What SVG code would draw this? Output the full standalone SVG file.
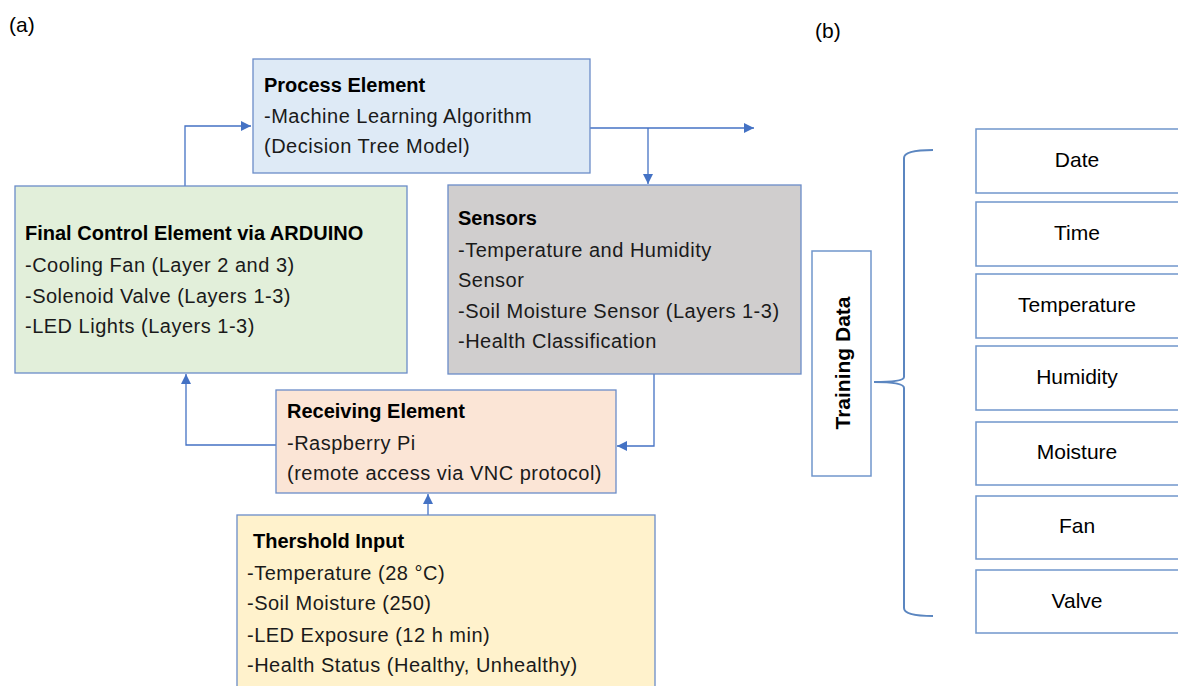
<svg xmlns="http://www.w3.org/2000/svg" width="1178" height="686" viewBox="0 0 1178 686">
<style>
.box{stroke:#6a8cc8;stroke-width:1.3}
.t{font-family:"Liberation Sans",Arial,sans-serif;font-size:20px;fill:#1a1a1a;letter-spacing:0.5px}
.b{font-weight:bold;fill:#000;letter-spacing:0}
.c{fill:none;stroke:#4472c4;stroke-width:1.3}
.lab{font-family:"Liberation Sans",Arial,sans-serif;font-size:21px;fill:#000}
.r{fill:#fff;stroke:#7096cc;stroke-width:1.5}
.rt{font-family:"Liberation Sans",Arial,sans-serif;font-size:21px;fill:#000;text-anchor:middle}
</style>
<defs>
<marker id="ah" markerUnits="userSpaceOnUse" markerWidth="12" markerHeight="10" refX="10" refY="5" orient="auto">
<path d="M0,0 L10,5 L0,10 z" fill="#4472c4"/>
</marker>
</defs>
<rect width="1178" height="686" fill="#fff"/>
<text class="lab" x="9" y="32" font-size="22">(a)</text>
<text class="lab" x="815" y="38">(b)</text>

<g id="connectors">
<path class="c" d="M185,186 V126 H251" marker-end="url(#ah)"/>
<path class="c" d="M590,128 H754" marker-end="url(#ah)"/>
<path class="c" d="M648,128 V184" marker-end="url(#ah)"/>
<path class="c" d="M654,374 V446 H617" marker-end="url(#ah)"/>
<path class="c" d="M277,445 H186 V374" marker-end="url(#ah)"/>
<path class="c" d="M428,515 V494" marker-end="url(#ah)"/>
</g>

<g id="process">
<rect class="box" x="253" y="59" width="337" height="114" fill="#deeaf6"/>
<text class="t b" x="264" y="92">Process Element</text>
<text class="t" x="264" y="123">-Machine Learning Algorithm</text>
<text class="t" x="264" y="153">(Decision Tree Model)</text>
</g>

<g id="final">
<rect class="box" x="15" y="186" width="392" height="187" fill="#e2efda"/>
<text class="t b" x="25" y="240">Final Control Element via ARDUINO</text>
<text class="t" x="25" y="272">-Cooling Fan (Layer 2 and 3)</text>
<text class="t" x="25" y="303">-Solenoid Valve (Layers 1-3)</text>
<text class="t" x="25" y="333">-LED Lights (Layers 1-3)</text>
</g>

<g id="sensors">
<rect class="box" x="448" y="185" width="353" height="189" fill="#d0cece"/>
<text class="t b" x="458" y="225">Sensors</text>
<text class="t" x="458" y="257">-Temperature and Humidity</text>
<text class="t" x="458" y="287">Sensor</text>
<text class="t" x="458" y="318">-Soil Moisture Sensor (Layers 1-3)</text>
<text class="t" x="458" y="348">-Health Classification</text>
</g>

<g id="receiving">
<rect class="box" x="276" y="390" width="340" height="103" fill="#fbe5d6"/>
<text class="t b" x="287" y="418">Receiving Element</text>
<text class="t" x="287" y="450">-Raspberry Pi</text>
<text class="t" x="287" y="480">(remote access via VNC protocol)</text>
</g>

<g id="threshold">
<rect class="box" x="237" y="515" width="418" height="200" fill="#fff2cc"/>
<text class="t b" x="253" y="548">Thershold Input</text>
<text class="t" x="247" y="580">-Temperature (28 °C)</text>
<text class="t" x="247" y="610">-Soil Moisture (250)</text>
<text class="t" x="247" y="642">-LED Exposure (12 h min)</text>
<text class="t" x="247" y="672">-Health Status (Healthy, Unhealthy)</text>
</g>

<g id="training">
<rect x="812" y="251" width="59" height="225" fill="#fff" stroke="#7096cc" stroke-width="1.5"/>
<text class="lab" font-weight="bold" text-anchor="middle" transform="translate(850,363) rotate(-90)">Training Data</text>
</g>

<g id="brace">
<path d="M933,150 Q904,150 904,158 V377 Q904,382 874,382 Q904,382 904,388 V608 Q904,616 933,616" fill="none" stroke="#5b86c0" stroke-width="2"/>
</g>

<g id="f-date"><rect class="r" x="976" y="129" width="220" height="64"/><text class="rt" x="1077" y="167">Date</text></g>
<g id="f-time"><rect class="r" x="976" y="202" width="220" height="64"/><text class="rt" x="1077" y="240">Time</text></g>
<g id="f-temperature"><rect class="r" x="976" y="274" width="220" height="64"/><text class="rt" x="1077" y="312">Temperature</text></g>
<g id="f-humidity"><rect class="r" x="976" y="346" width="220" height="64"/><text class="rt" x="1077" y="384">Humidity</text></g>
<g id="f-moisture"><rect class="r" x="976" y="422" width="220" height="63"/><text class="rt" x="1077" y="459">Moisture</text></g>
<g id="f-fan"><rect class="r" x="976" y="496" width="220" height="63"/><text class="rt" x="1077" y="533">Fan</text></g>
<g id="f-valve"><rect class="r" x="976" y="570" width="220" height="63"/><text class="rt" x="1077" y="608">Valve</text></g>
</svg>
